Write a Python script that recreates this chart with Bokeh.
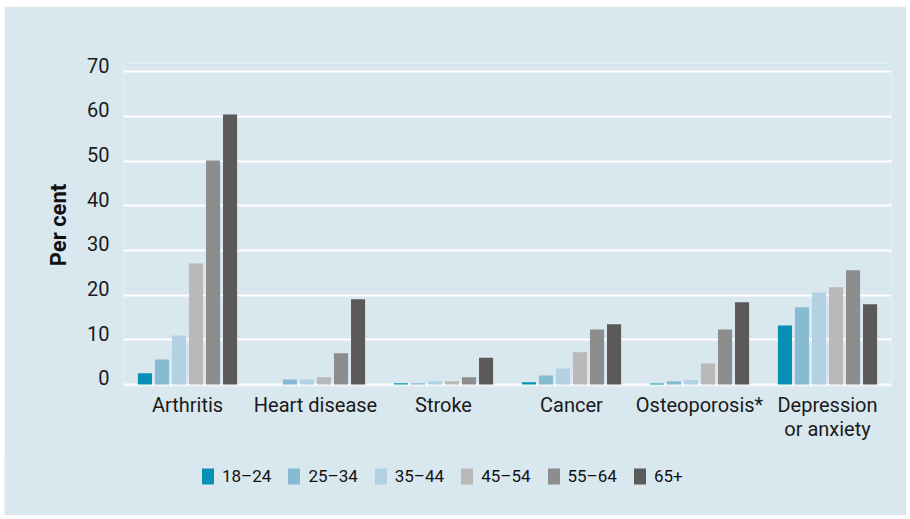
from bokeh.plotting import figure
from bokeh.models import (FactorRange, Range1d, FixedTicker, Legend, LegendItem,
                          ColumnDataSource)
from bokeh.transform import dodge
from bokeh.embed import file_html
from bokeh.resources import INLINE

categories = ["Arthritis", "Heart disease", "Stroke", "Cancer", "Osteoporosis*",
              "Depression\nor anxiety"]
age_groups = ["18–24", "25–34", "35–44", "45–54", "55–64", "65+"]
v_18_24 = [2.5, 0.0, 0.3, 0.5, 0.2, 13.2]
v_25_34 = [5.6, 1.1, 0.3, 2.0, 0.7, 17.3]
v_35_44 = [11.0, 1.1, 0.7, 3.6, 1.0, 20.6]
v_45_54 = [27.1, 1.6, 0.7, 7.2, 4.7, 21.8]
v_55_64 = [50.2, 7.0, 1.6, 12.3, 12.3, 25.6]
v_65p = [60.5, 19.1, 6.0, 13.5, 18.4, 18.0]
y_ticks = [0, 10, 20, 30, 40, 50, 60, 70]

colors = ["#0790b6", "#86bbd1", "#b3d1e1", "#b9b9b9", "#8d8d8d", "#5a5a5a"]
series = [v_18_24, v_25_34, v_35_44, v_45_54, v_55_64, v_65p]

BG = "#d9e7ef"
FONT = "Roboto"

data = {"cat": categories}
for i, s in enumerate(series):
    data[f"g{i}"] = s
source = ColumnDataSource(data)

p = figure(x_range=FactorRange(*categories), y_range=Range1d(-0.45, 71.9),
           frame_width=768, frame_height=323,
           min_border_left=119, min_border_right=15, min_border_top=57,
           min_border_bottom=70,
           output_backend="svg", toolbar_location=None)
p.margin = (6, 0, 0, 4)
p.background_fill_color = BG
p.border_fill_color = BG
p.outline_line_color = None

step = 0.133
for i, name in enumerate(age_groups):
    p.vbar(x=dodge("cat", (i - 2.5) * step, range=p.x_range), top=f"g{i}",
           bottom=0, width=0.11, source=source, fill_color=colors[i],
           line_color=None)

# grid
p.xgrid.grid_line_color = None
p.ygrid.ticker = FixedTicker(ticks=y_ticks)
p.ygrid.grid_line_color = "white"
p.ygrid.grid_line_width = 2

# y axis: labels sit just above their gridlines
label_lift = 1.5
p.yaxis.ticker = FixedTicker(ticks=[t + label_lift for t in y_ticks])
p.yaxis.major_label_overrides = {t + label_lift: str(t) for t in y_ticks}
p.yaxis.axis_line_color = None
p.yaxis.major_tick_line_color = None
p.yaxis.minor_tick_line_color = None
p.yaxis.major_label_standoff = 8
p.yaxis.major_label_text_font = FONT
p.yaxis.major_label_text_font_size = "20px"
p.yaxis.major_label_text_color = "#1a1a1a"
p.yaxis.axis_label = "Per cent"
p.yaxis.axis_label_text_font = FONT
p.yaxis.axis_label_text_font_style = "bold"
p.yaxis.axis_label_text_font_size = "22px"
p.yaxis.axis_label_text_color = "#111111"
p.yaxis.axis_label_standoff = 13

# x axis
p.xaxis.axis_line_color = None
p.xaxis.major_tick_line_color = None
p.xaxis.minor_tick_line_color = None
p.xaxis.major_label_standoff = 0
p.xaxis.major_label_text_font = FONT
p.xaxis.major_label_text_font_size = "20px"
p.xaxis.major_label_text_line_height = 1.0
p.xaxis.major_label_text_color = "#1a1a1a"

# legend strip below the chart (its bars lie outside its visible range)
lg = figure(width=902, height=60, x_range=Range1d(0, 1), y_range=Range1d(-2, -1),
            min_border=0, min_border_left=0, min_border_right=0,
            min_border_top=0, min_border_bottom=0,
            output_backend="svg", toolbar_location=None)
lg.margin = (-1, 0, 0, 4)
lg.background_fill_color = BG
lg.border_fill_color = BG
lg.outline_line_color = None
lg.axis.visible = False
lg.grid.visible = False
items = []
for i, name in enumerate(age_groups):
    r = lg.vbar(x=5, top=f"g{i}", bottom=0, width=0.1, source=source,
                fill_color=colors[i], line_color=None)
    items.append(LegendItem(label=name, renderers=[r]))

legend = Legend(items=items, orientation="horizontal", location=(196, 29),
                glyph_width=15, glyph_height=20, label_standoff=7, spacing=15,
                padding=0, margin=0, border_line_color=None,
                background_fill_alpha=0,
                label_text_font=FONT,
                label_text_font_size="17px", label_text_color="#111111")
lg.add_layout(legend, "center")

open("out.html", "w").write(file_html([p, lg], INLINE))
